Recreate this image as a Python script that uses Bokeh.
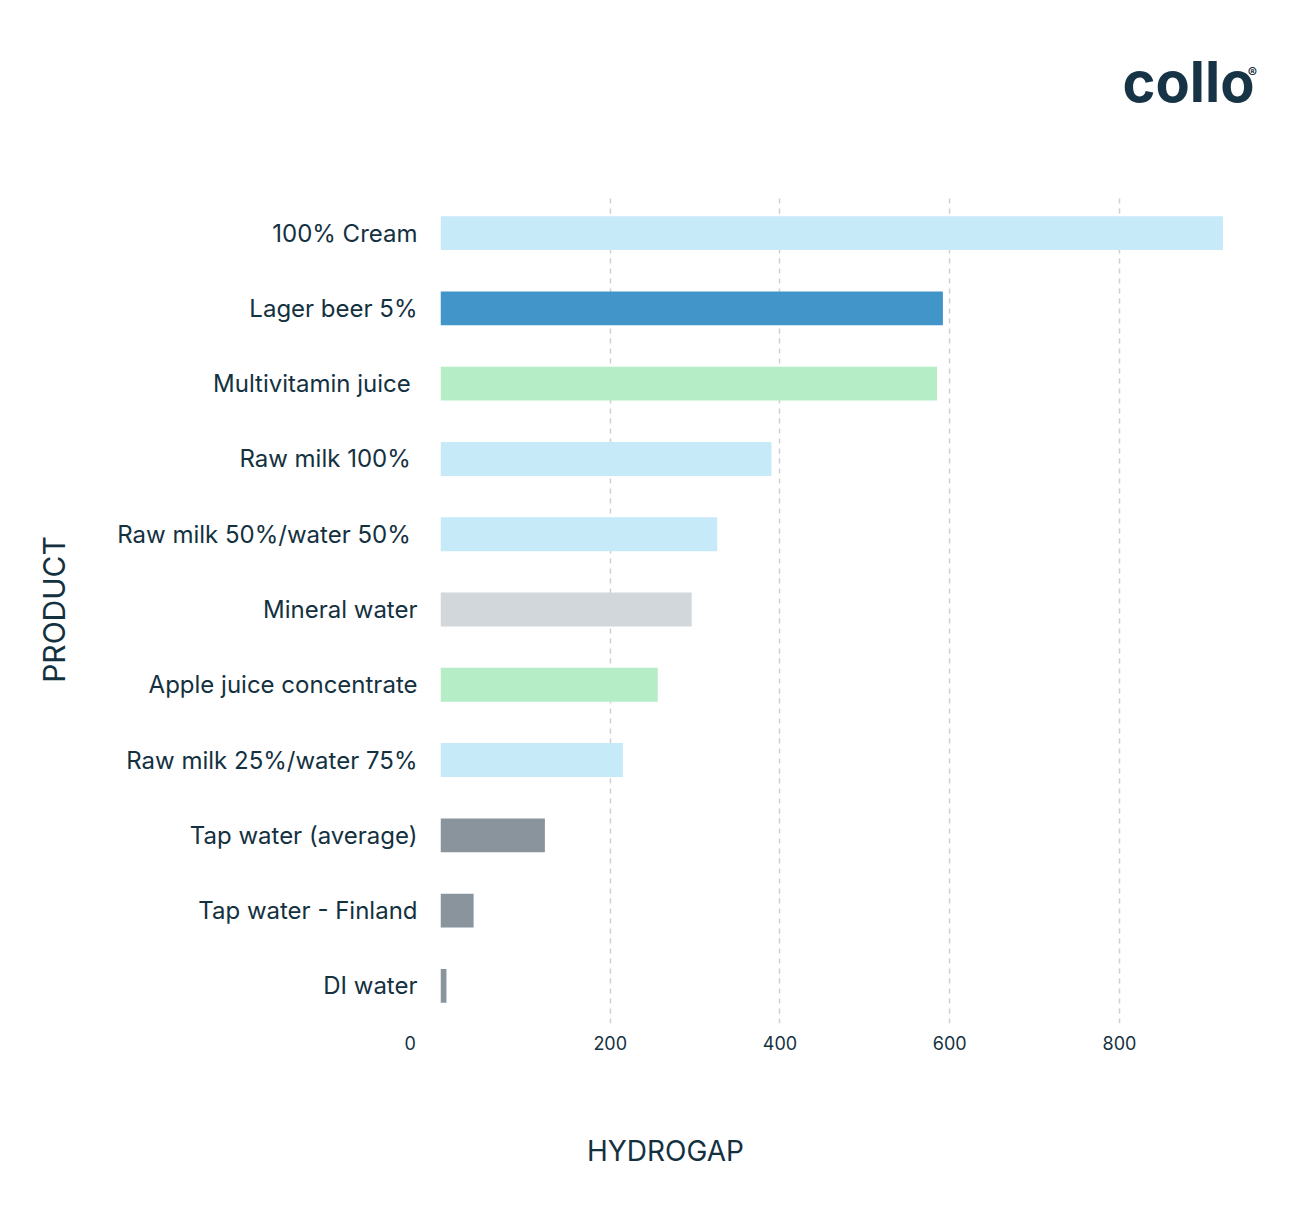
from bokeh.plotting import figure
from bokeh.layouts import column
from bokeh.models import ColumnDataSource, FactorRange, Range1d, FixedTicker
from bokeh.core.properties import value
from bokeh.transform import factor_cmap
from bokeh.embed import file_html
from bokeh.resources import INLINE

# Products, top to bottom
products = [
    "100% Cream",
    "Lager beer 5%",
    "Multivitamin juice ",
    "Raw milk 100% ",
    "Raw milk 50%/water 50% ",
    "Mineral water",
    "Apple juice concentrate",
    "Raw milk 25%/water 75%",
    "Tap water (average)",
    "Tap water - Finland",
    "DI water",
]
hydrogap = [922, 592, 585, 390, 326, 296, 256, 215, 123, 39, 7]
groups = ["dairy", "beer", "juice", "dairy", "dairy", "mineral",
          "juice", "dairy", "tap", "tap", "tap"]

group_names = ["dairy", "beer", "juice", "mineral", "tap"]
group_colors = ["#c7eaf8", "#4295c9", "#b4edc6", "#d2d7db", "#8a949c"]
x_ticks = [0, 200, 400, 600, 800]

INK = "#14313f"
BRAND = "#163446"
FONT = "Inter"
W = 1310
LEFT, RIGHT = 440, 40  # side borders shared by all three strips


def blank_strip(height):
    """A plain strip whose data units are page pixels, y growing downward."""
    f = figure(width=W, height=height, x_range=Range1d(LEFT, W - RIGHT),
               y_range=Range1d(height, 0), output_backend="svg",
               toolbar_location=None, min_border=0,
               min_border_left=LEFT, min_border_right=RIGHT)
    f.axis.visible = False
    f.grid.visible = False
    f.outline_line_color = None
    f.background_fill_color = "white"
    f.border_fill_color = "white"
    return f


# header with the brand mark
header = blank_strip(195)
header.text(x=[1122], y=[81], text=["collo"], text_align="left",
            text_baseline="alphabetic", text_font=value(FONT),
            text_font_style="bold", text_font_size="56px", text_color=BRAND)
header.text(x=[1252], y=[72], text=["®"], text_align="center",
            text_baseline="middle", text_font=value(FONT),
            text_font_style="bold", text_font_size="14px", text_color=BRAND)

# main bar chart
source = ColumnDataSource(dict(product=products, value=hydrogap, group=groups))

p = figure(
    width=W, height=905,
    y_range=FactorRange(*reversed(products)),
    x_range=Range1d(0, 978),
    output_backend="svg", toolbar_location=None,
    min_border_left=LEFT, min_border_right=RIGHT,
    min_border_top=0, min_border_bottom=77,
)
p.outline_line_color = None
p.background_fill_color = "white"
p.border_fill_color = "white"

p.hbar(y="product", right="value", left=0, height=0.45, source=source,
       line_color=None,
       fill_color=factor_cmap("group", palette=group_colors, factors=group_names))

# x axis: ticks only as labels, dashed vertical grid
p.xaxis.ticker = FixedTicker(ticks=x_ticks)
p.xaxis.major_label_overrides = {0: "0" + "\u00a0" * 12}
p.xaxis.axis_line_color = None
p.xaxis.major_tick_line_color = None
p.xaxis.minor_tick_line_color = None
p.xaxis.major_label_standoff = 3
p.xaxis.major_label_text_font = FONT
p.xaxis.major_label_text_font_size = "18px"
p.xaxis.major_label_text_color = INK

p.xgrid.ticker = FixedTicker(ticks=[200, 400, 600, 800])
p.xgrid.grid_line_color = "#cfcfcf"
p.xgrid.grid_line_dash = "5 5"
p.xgrid.grid_line_width = 1.5
p.ygrid.grid_line_color = None

# y axis: product names
p.yaxis.axis_line_color = None
p.yaxis.major_tick_line_color = None
p.yaxis.minor_tick_line_color = None
p.yaxis.major_label_standoff = 17
p.yaxis.major_label_text_font = FONT
p.yaxis.major_label_text_font_size = "24px"
p.yaxis.major_label_text_color = INK
p.yaxis.axis_label = "PRODUCT"
p.yaxis.axis_label_text_font = FONT
p.yaxis.axis_label_text_font_style = "normal"
p.yaxis.axis_label_text_font_size = "30px"
p.yaxis.axis_label_text_color = INK
p.yaxis.axis_label_standoff = 42

# footer with the x axis title
footer = blank_strip(128)
footer.text(x=[665], y=[50], text=["HYDROGAP"], text_align="center",
            text_baseline="middle", text_font=value(FONT),
            text_font_size="28px", text_color=INK)

layout = column(header, p, footer, spacing=0)
open("out.html", "w").write(file_html(layout, INLINE))
